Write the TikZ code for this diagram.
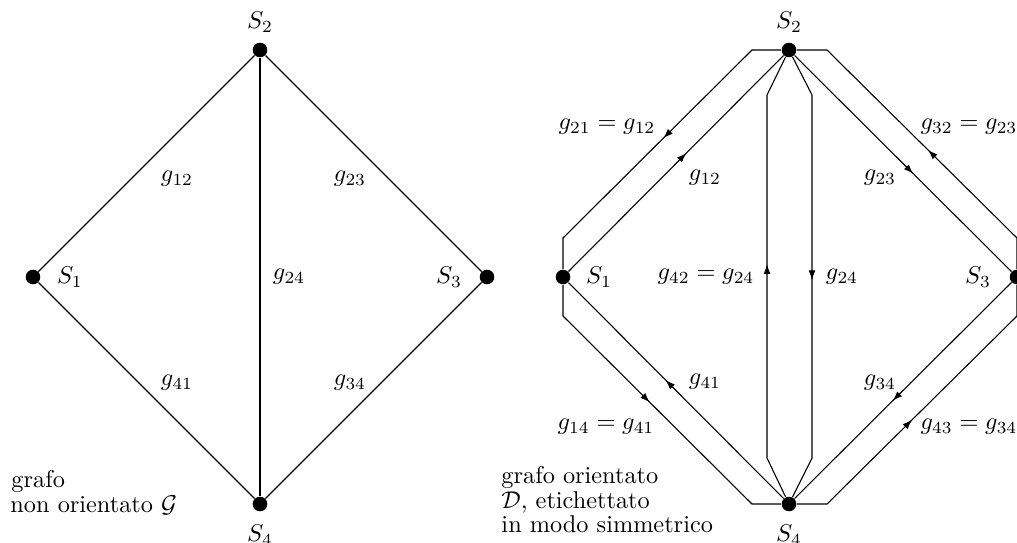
\documentclass[tikz,border=0pt]{standalone}
\usetikzlibrary{arrows.meta,decorations.markings}
\tikzset{
  vtx/.style={circle, fill=black, inner sep=0pt, minimum size=6pt},
  lbl/.style={inner sep=0pt},
  txt/.style={inner sep=0pt, anchor=base west},
  edge/.style={line width=0.45pt, line join=miter},
  marr/.style={postaction={decorate}, decoration={markings, mark=at position #1 with {\arrow{Latex[length=4pt,width=2.8pt]}}}},
}
\begin{document}
\begin{tikzpicture}[x=0.4115pt, y=-0.4115pt]
\useasboundingbox (0,0) rectangle (1017,542);

% ---------- left: undirected graph ----------
\node[vtx] (L1) at (33,277) {};
\node[vtx] (L2) at (260,50) {};
\node[vtx] (L3) at (487,277) {};
\node[vtx] (L4) at (260,504) {};
\draw[edge] (L1) -- (L2);
\draw[edge] (L2) -- (L3);
\draw[edge] (L3) -- (L4);
\draw[edge] (L4) -- (L1);
\draw[edge] (L2) -- (L4);

\node[lbl] (tL2) at (260,22) {$S_2$};
\node[lbl] (tL1) at (70,277) {$S_1$};
\node[lbl] (tL3) at (449,277) {$S_3$};
\node[lbl] (tL4) at (260,535) {$S_4$};
\node[lbl] (gL12) at (177,179) {$g_{12}$};
\node[lbl] (gL23) at (350,179) {$g_{23}$};
\node[lbl] (gL24) at (289,277) {$g_{24}$};
\node[lbl] (gL41) at (177,383) {$g_{41}$};
\node[lbl] (gL34) at (350,383) {$g_{34}$};
\node[txt] (capL1) at (11,487) {grafo};
\node[txt] (capL2) at (10,512) {non orientato $\mathcal{G}$};

% ---------- right: directed graph ----------
\node[vtx] (R1) at (563,277) {};
\node[vtx] (R2) at (789,50) {};
\node[vtx] (R3) at (1017,277) {};
\node[vtx] (R4) at (789,504) {};

\coordinate (a1) at (752,50);
\coordinate (a2) at (563,238);
\coordinate (b1) at (563,316);
\coordinate (b2) at (752,504);
\coordinate (c1) at (827,50);
\coordinate (c2) at (1017,238);
\coordinate (d1) at (1017,316);
\coordinate (d2) at (827,504);
\coordinate (m1) at (767,95);
\coordinate (m2) at (767,458);
\coordinate (n1) at (812,95);
\coordinate (n2) at (812,458);

% inner straight arcs
\draw[edge, marr=0.55] (R1) -- (R2);
\draw[edge, marr=0.55] (R2) -- (R3);
\draw[edge, marr=0.55] (R3) -- (R4);
\draw[edge, marr=0.55] (R4) -- (R1);

% outer bent arcs
\draw[edge] (R2) -- (a1) -- (a2) -- (R1);
\path[marr=0.47] (a1) -- (a2);
\draw[edge] (R1) -- (b1) -- (b2) -- (R4);
\path[marr=0.46] (b1) -- (b2);
\draw[edge] (R3) -- (c2) -- (c1) -- (R2);
\path[marr=0.47] (c2) -- (c1);
\draw[edge] (R4) -- (d2) -- (d1) -- (R3);
\path[marr=0.45] (d2) -- (d1);

% middle arcs
\draw[edge] (R4) -- (m2) -- (m1) -- (R2);
\path[marr=0.534] (m2) -- (m1);
\draw[edge] (R2) -- (n1) -- (n2) -- (R4);
\path[marr=0.51] (n1) -- (n2);

\node[lbl] (tR2) at (789,22) {$S_2$};
\node[lbl] (tR1) at (599,277) {$S_1$};
\node[lbl] (tR3) at (978,277) {$S_3$};
\node[lbl] (tR4) at (789,535) {$S_4$};
\node[lbl] (g21) at (607,127) {$g_{21}=g_{12}$};
\node[lbl] (g12) at (705,178) {$g_{12}$};
\node[lbl] (g32) at (969,127) {$g_{32}=g_{23}$};
\node[lbl] (g23) at (880,178) {$g_{23}$};
\node[lbl] (g42) at (706,277) {$g_{42}=g_{24}$};
\node[lbl] (g24) at (842,277) {$g_{24}$};
\node[lbl] (g14) at (606,427) {$g_{14}=g_{41}$};
\node[lbl] (g41) at (705,382) {$g_{41}$};
\node[lbl] (g34) at (880,383) {$g_{34}$};
\node[lbl] (g43) at (969,427) {$g_{43}=g_{34}$};
\node[txt] (capR1) at (501,483) {grafo orientato};
\node[txt] (capR2) at (501,508) {$\mathcal{D}$, etichettato};
\node[txt] (capR3) at (501,532) {in modo simmetrico};
\end{tikzpicture}
\end{document}
